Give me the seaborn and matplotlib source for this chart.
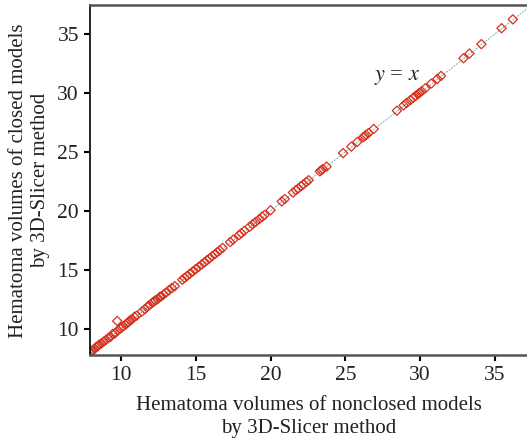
import numpy as np
import pandas as pd
import matplotlib
matplotlib.use("Agg")
import matplotlib.pyplot as plt
import seaborn as sns

# Data
nonclosed = [7.95, 8.05, 8.15, 8.25, 8.35, 8.45, 8.55, 8.7, 8.85, 9.0, 9.15, 9.3, 9.45, 9.6, 9.75, 9.8,
             9.95, 10.05, 10.15, 10.3, 10.4, 10.5, 10.6, 10.75, 10.9, 11.05, 11.4, 11.6, 11.8, 11.95,
             12.1, 12.2, 12.3, 12.45, 12.6, 12.7, 12.85, 13.0, 13.2, 13.4, 13.6, 14.1, 14.25, 14.4,
             14.6, 14.8, 15.0, 15.2, 15.4, 15.6, 15.75, 15.9, 16.1, 16.3, 16.45, 16.6, 16.8, 17.3,
             17.5, 17.9, 18.05, 18.25, 18.6, 18.8, 19.0, 19.25, 19.45, 19.6, 20.0, 20.75, 20.95,
             21.5, 21.7, 21.85, 22.05, 22.2, 22.4, 22.55, 23.3, 23.4, 23.5, 23.75, 24.85, 25.4,
             25.8, 26.2, 26.3, 26.4, 26.55, 26.9, 28.45, 28.9, 29.1, 29.35, 29.55, 29.7, 29.85,
             29.95, 30.1, 30.35, 30.75, 31.15, 31.4, 32.9, 33.3, 34.1, 35.45, 36.2]
closed = [8.0, 8.1, 8.2, 8.3, 8.45, 8.5, 8.65, 8.75, 8.9, 9.05, 9.2, 9.3, 9.55, 9.6, 10.65, 9.85,
          10.0, 10.1, 10.2, 10.35, 10.45, 10.55, 10.7, 10.8, 11.0, 11.1, 11.45, 11.65, 11.9, 12.05,
          12.2, 12.3, 12.4, 12.5, 12.7, 12.75, 12.9, 13.05, 13.25, 13.45, 13.6, 14.15, 14.3, 14.45,
          14.65, 14.85, 15.05, 15.25, 15.45, 15.65, 15.8, 15.95, 16.15, 16.35, 16.5, 16.65, 16.85, 17.35,
          17.55, 17.95, 18.1, 18.3, 18.65, 18.85, 19.05, 19.3, 19.5, 19.65, 20.05, 20.8, 21.0,
          21.55, 21.75, 21.9, 22.1, 22.25, 22.45, 22.6, 23.35, 23.45, 23.55, 23.75, 24.9, 25.45,
          25.85, 26.25, 26.35, 26.45, 26.6, 26.95, 28.5, 28.95, 29.15, 29.4, 29.6, 29.75, 29.9,
          30.0, 30.15, 30.4, 30.8, 31.2, 31.45, 32.95, 33.35, 34.15, 35.5, 36.25]
line_ref = [7.9, 37.3]

df = pd.DataFrame({"nonclosed": nonclosed, "closed": closed})
ref = pd.DataFrame({"x": line_ref, "y": line_ref})

sns.set_theme(style="white")
plt.rcParams["font.family"] = ["Liberation Serif", "DejaVu Serif"]
plt.rcParams["mathtext.fontset"] = "stix"

fig = plt.figure(figsize=(5.27, 4.43), dpi=100)
ax = fig.add_axes([0.1708, 0.1986, 0.8292, 0.789])

sns.lineplot(data=ref, x="x", y="y", ax=ax, color="#7aaac4", lw=0.7,
             linestyle=(0, (2, 1.2)), zorder=1)
sns.scatterplot(data=df, x="nonclosed", y="closed", ax=ax, marker="D", s=22,
                facecolor="none", edgecolor="#d8301c", linewidth=0.9, zorder=2)

ax.set_xlim(7.93, 37.15)
ax.set_ylim(7.76, 37.43)
ax.set_xticks([10, 15, 20, 25, 30, 35])
ax.set_yticks([10, 15, 20, 25, 30, 35])
ax.tick_params(axis="both", direction="out", length=4, width=1.5, color="black",
               labelsize=15.5, labelcolor="#222222", bottom=True, left=True, pad=4)

ax.spines["left"].set_color("black")
ax.spines["left"].set_linewidth(1.2)
for s in ["top", "bottom"]:
    ax.spines[s].set_color("#555555")
    ax.spines[s].set_linewidth(1.8)
ax.spines["right"].set_visible(False)

ax.set_xlabel("Hematoma volumes of nonclosed models\nby 3D-Slicer method", fontsize=15,
              color="#222222", linespacing=1.25, labelpad=8)
ax.set_ylabel("Hematoma volumes of closed models\nby 3D-Slicer method", fontsize=15,
              color="#222222", linespacing=1.25, labelpad=5)

ax.text(28.45, 31.3, "$y$ = $x$", fontsize=16, ha="center", va="center", color="#222222")

fig.savefig("out.png", dpi=100)
